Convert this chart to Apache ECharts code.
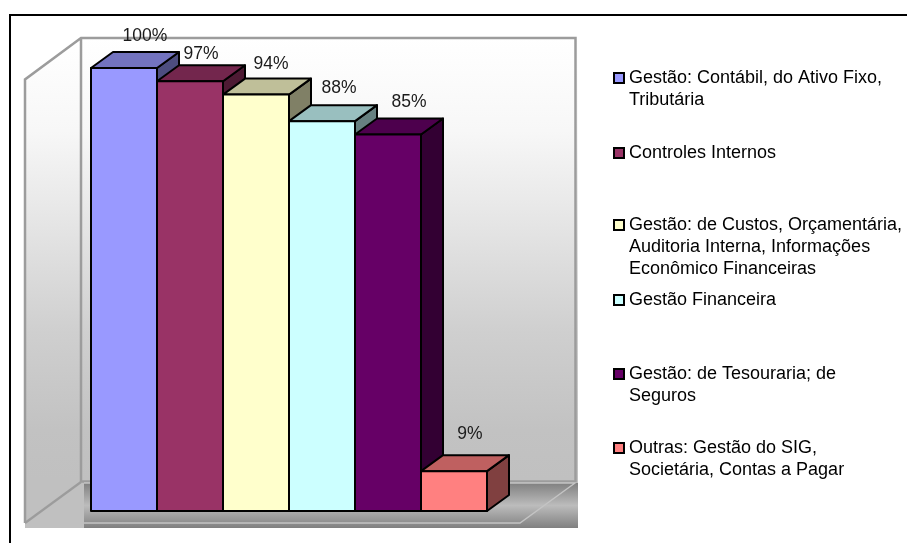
<!DOCTYPE html>
<html><head><meta charset="utf-8">
<style>html,body{margin:0;padding:0;background:#fff}#c{width:907px;height:543px}</style>
<script src="https://cdn.jsdelivr.net/npm/echarts@6/dist/echarts.min.js"></script>
</head><body><div id="c"></div>
<script>
const categories = [
  'Gestão: Contábil, do Ativo Fixo,\nTributária',
  'Controles Internos',
  'Gestão: de Custos, Orçamentária,\nAuditoria Interna, Informações\nEconômico Financeiras',
  'Gestão Financeira',
  'Gestão: de Tesouraria; de\nSeguros',
  'Outras: Gestão do SIG,\nSocietária, Contas a Pagar'
];
const values = [100, 97, 94, 88, 85, 9];
const colors = ['#9999FF', '#993366', '#FFFFCC', '#CCFFFF', '#660066', '#FF8080'];
const legendIconCenters = [78, 153, 225, 300, 374, 448];
const labelNudgeX = [21, 11, 15, 17, 21, 16];
const labelNudgeY = [-32, -27, -30, -33, -32, -37];
const DEPTH_X = 22, DEPTH_Y = -16, LINE_H = 22, FONT = '"Liberation Sans", Arial, sans-serif';

function shade(hex, f) {
  const n = parseInt(hex.slice(1), 16);
  const c = [n >> 16, (n >> 8) & 255, n & 255].map(v => Math.round(v * f));
  return 'rgb(' + c.join(',') + ')';
}
function barRenderer(color, idx) {
  return function (params, api) {
    const top = api.coord([api.value(0), api.value(1)]);
    const base = api.coord([api.value(0), 0]);
    const w = api.size([1, 0])[0];
    const l = top[0] - w / 2, r = top[0] + w / 2, t = top[1], b = base[1];
    const edge = { stroke: '#000', lineWidth: 2, lineJoin: 'round' };
    return { type: 'group', children: [
      { type: 'polygon', shape: { points: [[r, t], [r + DEPTH_X, t + DEPTH_Y], [r + DEPTH_X, b + DEPTH_Y], [r, b]] },
        style: Object.assign({ fill: shade(color, 0.5) }, edge) },
      { type: 'polygon', shape: { points: [[l, t], [l + DEPTH_X, t + DEPTH_Y], [r + DEPTH_X, t + DEPTH_Y], [r, t]] },
        style: Object.assign({ fill: shade(color, 0.75) }, edge) },
      { type: 'rect', shape: { x: l, y: t, width: w, height: b - t },
        style: Object.assign({ fill: color }, edge) },
      { type: 'text', x: top[0] + labelNudgeX[idx], y: t + labelNudgeY[idx],
        style: { text: api.value(1) + '%', font: '17.5px ' + FONT, fill: '#1a1a1a', align: 'center', verticalAlign: 'middle' } }
    ] };
  };
}
const gray = '#9c9c9c';
const wallLine = (pts, stroke, lw) => ({ type: 'polyline', shape: { points: pts }, style: { stroke, lineWidth: lw, fill: null }, silent: true });
const chart = echarts.init(document.getElementById('c'), null, { renderer: 'canvas' });
chart.setOption({
  animation: false,
  backgroundColor: '#fff',
  grid: { left: 91, top: 68, width: 396, height: 443 },
  xAxis: { type: 'category', data: categories, show: false },
  yAxis: { type: 'value', min: 0, max: 100, show: false },
  legend: categories.map((name, i) => {
    const n = name.split('\n').length;
    return {
      data: [name], icon: 'rect', left: 613, top: legendIconCenters[i] - (2 * n - 1) * LINE_H / 2,
      orient: 'vertical', padding: 0, itemWidth: 10, itemHeight: 10, selectedMode: false,
      itemStyle: { borderColor: '#000', borderWidth: 2 },
      formatter: (s) => '\n'.repeat(n - 1) + s,
      textStyle: { fontFamily: FONT, fontSize: 18, lineHeight: LINE_H, color: '#000' }
    };
  }),
  graphic: [
    { type: 'rect', z: 0, silent: true, shape: { x: 25, y: 38, width: 553, height: 490 },
      style: { fill: new echarts.graphic.LinearGradient(0, 0, 0, 1, [
        { offset: 0, color: '#ffffff' }, { offset: 0.19, color: '#f7f7f7' }, { offset: 0.39, color: '#e4e4e4' },
        { offset: 0.6, color: '#cfcfcf' }, { offset: 0.8, color: '#c2c2c2' }, { offset: 0.9, color: '#c0c0c0' }, { offset: 1, color: '#c0c0c0' }]) } },
    { type: 'polygon', z: 0, silent: true, shape: { points: [[25, 38], [81, 38], [25, 80]] }, style: { fill: '#fff' } },
    { type: 'rect', z: 0, silent: true, shape: { x: 84, y: 483, width: 494, height: 45 },
      style: { fill: new echarts.graphic.LinearGradient(0, 0, 0, 1, [{ offset: 0, color: '#808080' }, { offset: 0.5, color: '#bcbcbc' }, { offset: 1, color: '#808080' }]) } },
    Object.assign(wallLine([[25, 523], [25, 79.5], [81, 38], [575.5, 38], [575.5, 481.5], [81, 481.5], [81, 38]], gray, 2.5), { z: 1 }),
    Object.assign(wallLine([[25, 523], [81, 482]], gray, 2.2), { z: 1 }),
    Object.assign(wallLine([[84, 483], [575, 483], [520, 523], [84, 523]], '#c4c4c4', 1.4), { z: 1 }),
    Object.assign(wallLine([[10, 543], [10, 15], [907, 15]], '#000', 2), { z: 1 })
  ],
  series: categories.map((name, i) => ({
    type: 'custom', name, color: colors[i], legendIcon: 'rect',
    renderItem: barRenderer(colors[i], i),
    data: [[i, values[i]]], encode: { x: 0, y: 1 }, clip: false
  }))
});
</script></body></html>
